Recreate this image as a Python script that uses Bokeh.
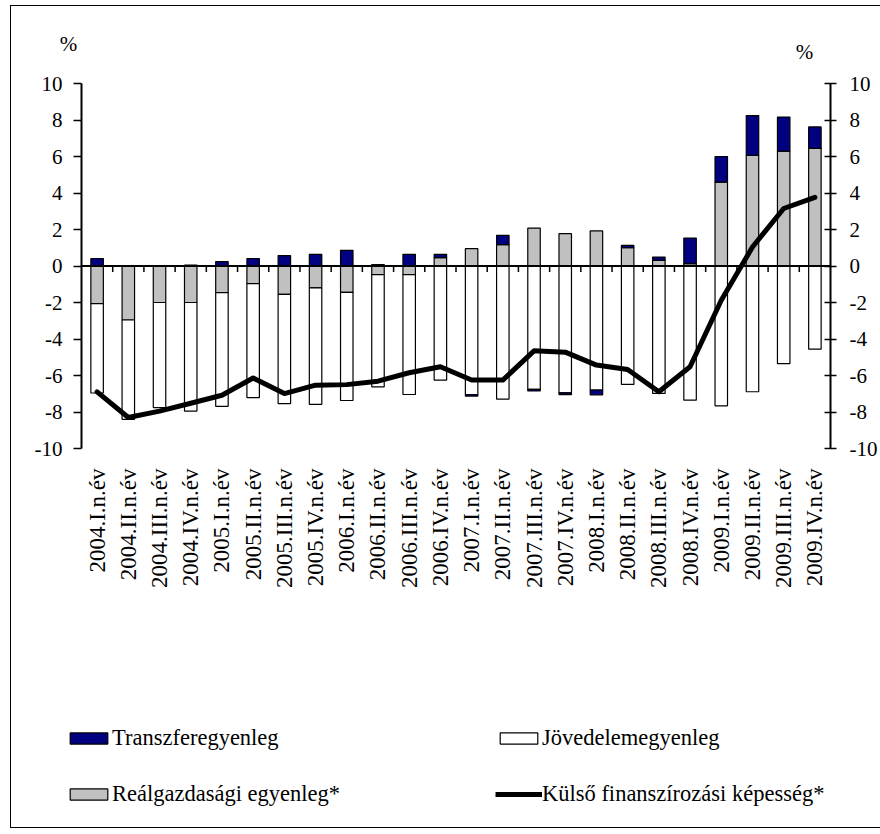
import numpy as np
from bokeh.plotting import figure
from bokeh.layouts import column
from bokeh.models import (FactorRange, Range1d, LinearAxis, Span, Label, Legend,
                          LegendItem, FixedTicker, ColumnDataSource, PrintfTickFormatter)
from bokeh.embed import file_html
from bokeh.resources import INLINE

categories = [
    "2004.I.n.év", "2004.II.n.év", "2004.III.n.év", "2004.IV.n.év",
    "2005.I.n.év", "2005.II.n.év", "2005.III.n.év", "2005.IV.n.év",
    "2006.I.n.év", "2006.II.n.év", "2006.III.n.év", "2006.IV.n.év",
    "2007.I.n.év", "2007.II.n.év", "2007.III.n.év", "2007.IV.n.év",
    "2008.I.n.év", "2008.II.n.év", "2008.III.n.év", "2008.IV.n.év",
    "2009.I.n.év", "2009.II.n.év", "2009.III.n.év", "2009.IV.n.év",
]

realgazdasagi = [-2.06, -2.96, -2.0, -2.0, -1.46, -0.97, -1.55, -1.2,
                 -1.44, -0.47, -0.47, 0.46, 0.95, 1.17, 2.08, 1.77,
                 1.92, 1.0, 0.31, 0.13, 4.6, 6.06, 6.29, 6.44]
jovedelem = [-4.90, -5.44, -5.76, -5.95, -6.23, -6.24, -5.99, -6.38,
             -5.93, -6.15, -6.57, -6.25, -7.04, -7.29, -6.76, -6.95,
             -6.8, -6.49, -6.98, -7.35, -7.66, -6.89, -5.35, -4.56]
transzfer = [0.41, 0.0, 0.0, 0.05, 0.24, 0.41, 0.57, 0.64,
             0.86, 0.08, 0.64, 0.18, -0.09, 0.51, -0.09, -0.1,
             -0.26, 0.13, 0.18, 1.4, 1.4, 2.18, 1.87, 1.18]
kulso = [-6.9, -8.3, -7.95, -7.52, -7.08, -6.14, -6.99, -6.53,
         -6.5, -6.31, -5.85, -5.52, -6.25, -6.25, -4.65, -4.72,
         -5.43, -5.67, -6.89, -5.52, -1.88, 1.04, 3.15, 3.76]

y_ticks = [-10, -8, -6, -4, -2, 0, 2, 4, 6, 8, 10]

names = ["Reálgazdasági egyenleg*", "Jövedelemegyenleg", "Transzferegyenleg"]
series = [realgazdasagi, jovedelem, transzfer]
colors = ["#C0C0C0", "#FFFFFF", "#000080"]
line_name = "Külső finanszírozási képesség*"

FONT = "Liberation Serif"
BAR_STYLE = dict(line_color="black", line_width=1.2)
LINE_STYLE = dict(line_width=5, line_color="black", line_join="round", line_cap="round")

# stacked layout of the bars (positive and negative parts stacked separately)
pos_base = np.zeros(len(categories))
neg_base = np.zeros(len(categories))
sources = {}
for name, vals in zip(names, series):
    v = np.array(vals, dtype=float)
    bottom = np.where(v >= 0, pos_base, neg_base + v)
    top = np.where(v >= 0, pos_base + v, neg_base)
    pos_base = pos_base + np.where(v >= 0, v, 0)
    neg_base = neg_base + np.where(v < 0, v, 0)
    sources[name] = ColumnDataSource(dict(x=categories, bottom=bottom, top=top))
line_source = ColumnDataSource(dict(x=categories, y=kulso))

# ---------------- main chart ----------------
x_range = FactorRange(*categories)
p = figure(width=880, height=650, x_range=x_range,
           y_range=Range1d(-10, 10), output_backend="svg", toolbar_location=None,
           min_border_left=81, min_border_right=50, min_border_top=83,
           min_border_bottom=202)
p.frame_align = False
p.outline_line_color = None
p.xgrid.visible = False
p.ygrid.visible = False
p.border_fill_color = None
p.background_fill_color = None
p.styles = {
    "background": ("linear-gradient(#000,#000) 10px 5px / 1px 645px no-repeat, "
                   "linear-gradient(#000,#000) 10px 5px / 870px 1px no-repeat, "
                   "#ffffff"),
}

for name, col in zip(names, colors):
    p.vbar(x="x", bottom="bottom", top="top", width=0.4, source=sources[name],
           fill_color=col, **BAR_STYLE)
p.line(x="x", y="y", source=line_source, **LINE_STYLE)

# zero (category) axis line and its ticks
p.add_layout(Span(location=0, dimension="width", line_color="black", line_width=2))
bounds = list(range(1, len(categories)))
p.segment(x0=bounds, x1=bounds, y0=[0] * len(bounds), y1=[-0.33] * len(bounds),
          line_color="black", line_width=1.5)

xa = p.xaxis[0]
xa.axis_line_color = None
xa.major_tick_line_color = None
xa.minor_tick_line_color = None
xa.major_tick_out = 0
xa.major_tick_in = 0
xa.major_label_orientation = np.pi / 2
xa.major_label_standoff = 20
xa.major_label_text_font = FONT
xa.major_label_text_font_size = "23px"
xa.major_label_text_color = "black"


def style_y(ax, tick_in, tick_out, standoff):
    ax.ticker = FixedTicker(ticks=y_ticks)
    ax.formatter = PrintfTickFormatter(format="%d")
    ax.axis_line_width = 2
    ax.axis_line_color = "black"
    ax.major_tick_line_width = 1.5
    ax.major_tick_line_color = "black"
    ax.major_tick_out = tick_out
    ax.major_tick_in = tick_in
    ax.minor_tick_line_color = None
    ax.major_label_standoff = standoff
    ax.major_label_text_font = FONT
    ax.major_label_text_font_size = "21px"
    ax.major_label_text_color = "black"


style_y(p.yaxis[0], 0, 8, 11)
ra = LinearAxis()
style_y(ra, 6, 6, 13)
p.add_layout(ra, "right")

lab_kw = dict(x_units="screen", y_units="screen", text="%", text_align="center",
              text_baseline="middle", text_font=FONT, text_font_size="21px",
              text_color="black")
p.add_layout(Label(x=-13, y=39.5, **lab_kw), "above")
p.add_layout(Label(x=723, y=8, **lab_kw), "above")

# ---------------- legend strip ----------------
# same data, scrolled out of view; only the legend of this strip is visible
q = figure(width=880, height=184, x_range=x_range, y_range=Range1d(1000, 1001),
           output_backend="svg", toolbar_location=None,
           x_axis_location=None, y_axis_location=None,
           min_border=0, min_border_left=0, min_border_right=0,
           min_border_top=0, min_border_bottom=0)
q.frame_align = False
q.outline_line_color = None
q.xgrid.visible = False
q.ygrid.visible = False
q.border_fill_color = None
q.background_fill_color = None
q.styles = {
    "background": ("linear-gradient(#000,#000) 10px 0px / 1px 178px no-repeat, "
                   "linear-gradient(#000,#000) 10px 177px / 870px 1px no-repeat, "
                   "#ffffff"),
}

legend_r = {}
for name, col in zip(names, colors):
    legend_r[name] = q.vbar(x="x", bottom="bottom", top="top", width=0.4,
                            source=sources[name], fill_color=col, **BAR_STYLE)
legend_r[line_name] = q.line(x="x", y="y", source=line_source, line_width=5,
                             line_color="black", line_cap="butt")

common = dict(orientation="vertical", padding=0, margin=0, spacing=30,
              border_line_color=None, background_fill_alpha=0,
              label_text_font=FONT, label_text_font_size="22.5px",
              label_text_color="black", glyph_height=14, glyph_width=47,
              label_height=26, label_standoff=0)
leg_a = Legend(items=[LegendItem(label="Transzferegyenleg", renderers=[legend_r["Transzferegyenleg"]]),
                      LegendItem(label="Reálgazdasági egyenleg*", renderers=[legend_r["Reálgazdasági egyenleg*"]])],
               location=(65, 27), **common)
leg_b = Legend(items=[LegendItem(label="Jövedelemegyenleg", renderers=[legend_r["Jövedelemegyenleg"]]),
                      LegendItem(label=line_name, renderers=[legend_r[line_name]])],
               location=(495, 27), **common)
q.add_layout(leg_a, "center")
q.add_layout(leg_b, "center")

layout = column(p, q, spacing=0)
open("out.html", "w").write(file_html(layout, INLINE))
